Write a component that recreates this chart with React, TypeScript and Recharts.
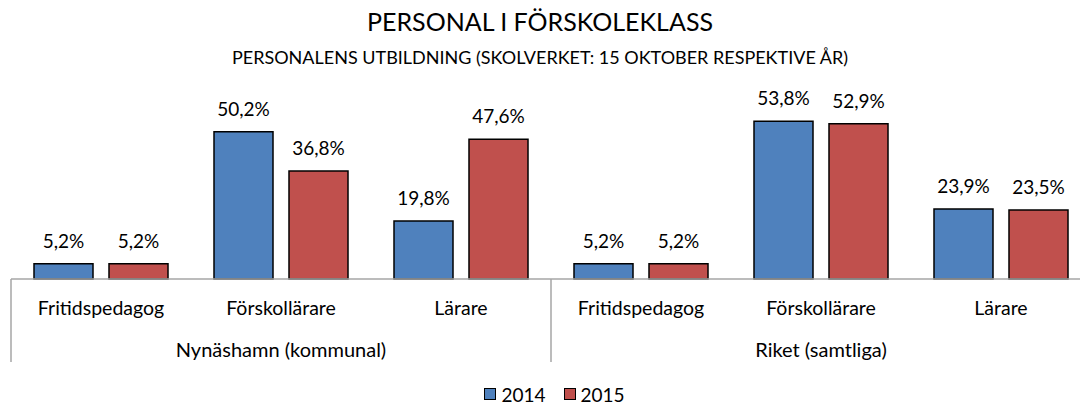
import React from 'react';
import { BarChart, Bar, XAxis, YAxis, Legend, LabelList } from 'recharts';

const categories = ['Fritidspedagog', 'Förskollärare', 'Lärare', 'Fritidspedagog', 'Förskollärare', 'Lärare'];
const groups = [
  'Nynäshamn (kommunal)',
  'Nynäshamn (kommunal)',
  'Nynäshamn (kommunal)',
  'Riket (samtliga)',
  'Riket (samtliga)',
  'Riket (samtliga)',
];
const values2014 = [5.2, 50.2, 19.8, 5.2, 53.8, 23.9];
const values2015 = [5.2, 36.8, 47.6, 5.2, 52.9, 23.5];
const seriesNames = ['2014', '2015'];
const seriesColors = ['#4F81BD', '#C0504D'];
const title = 'PERSONAL I FÖRSKOLEKLASS';
const subtitle = 'PERSONALENS UTBILDNING (SKOLVERKET: 15 OKTOBER RESPEKTIVE ÅR)';

const data = categories.map((c, i) => ({
  key: String(i),
  cat: c,
  group: groups[i],
  y2014: values2014[i],
  y2015: values2015[i],
}));

const FONT = 'Lato, "Open Sans", sans-serif';
const CHART_W = 1100;
const CHART_H = 405;
const M = { top: 103, left: 11, right: 9, bottom: 0 };
const BAND = (CHART_W - M.left - M.right) / categories.length;
const AXIS_GRAY = '#a6a6a6';

const fmt = (v: any) => `${Number(v).toFixed(1).replace('.', ',')}%`;

const CatTick = (props: any) => {
  const { x, y, index } = props;
  const half = BAND / 2;
  const lines: number[] = [];
  if (index === 0 || groups[index] !== groups[index - 1]) lines.push(x - half);
  if (index === categories.length - 1) lines.push(x + half);
  return (
    <g>
      {lines.map((lx, k) => (
        <line key={k} x1={lx} x2={lx} y1={y} y2={y + 83} stroke={AXIS_GRAY} strokeWidth={1.5} />
      ))}
      <text x={x} y={y + 36} textAnchor="middle" fontSize={19.5} fontFamily={FONT} fill="#000">
        {categories[index]}
      </text>
    </g>
  );
};

const GroupTick = (props: any) => {
  const { x, y, index } = props;
  if (index > 0 && groups[index] === groups[index - 1]) return <g />;
  let count = 0;
  for (let j = index; j < groups.length && groups[j] === groups[index]; j++) count++;
  const cx = x - BAND / 2 + (count * BAND) / 2;
  return (
    <text x={cx} y={y + 28} textAnchor="middle" fontSize={20} fontFamily={FONT} fill="#000">
      {groups[index]}
    </text>
  );
};

const LegendContent = () => (
  <div
    style={{
      height: 30,
      display: 'flex',
      justifyContent: 'center',
      alignItems: 'center',
      paddingTop: 8,
      boxSizing: 'border-box',
      fontFamily: FONT,
      fontSize: 19,
      color: '#000',
      paddingLeft: 7,
    }}
  >
    {seriesNames.map((n, i) => (
      <div key={n} style={{ display: 'flex', alignItems: 'center', marginRight: i === 0 ? 18 : 0 }}>
        <span
          style={{
            display: 'inline-block',
            width: 10,
            height: 10,
            background: seriesColors[i],
            border: '1.5px solid #000',
            marginRight: 5,
          }}
        />
        <span style={{ lineHeight: '19px' }}>{n}</span>
      </div>
    ))}
  </div>
);

export default function App() {
  return (
    <div
      style={{
        position: 'absolute',
        left: 0,
        top: 0,
        width: 1080,
        height: 405,
        overflow: 'hidden',
        background: '#fff',
        fontFamily: FONT,
      }}
    >
      <div
        style={{
          position: 'absolute',
          left: 0,
          top: 5,
          width: 1080,
          textAlign: 'center',
          fontSize: 25,
          lineHeight: '32px',
          color: '#000',
        }}
      >
        {title}
      </div>
      <div
        style={{
          position: 'absolute',
          left: 0,
          top: 46,
          width: 1080,
          textAlign: 'center',
          fontSize: 18,
          lineHeight: '22px',
          color: '#000',
        }}
      >
        {subtitle}
      </div>
      <div style={{ position: 'absolute', left: 0, top: 0 }}>
        <BarChart width={CHART_W} height={CHART_H} data={data} margin={M} barGap={16}>
          <XAxis
            dataKey="key"
            height={50}
            tickLine={false}
            tickSize={0}
            tickMargin={0}
            axisLine={{ stroke: AXIS_GRAY, strokeWidth: 1.5 }}
            tick={<CatTick />}
            interval={0}
          />
          <XAxis
            xAxisId="g"
            dataKey="key"
            height={46}
            tickLine={false}
            tickSize={0}
            tickMargin={0}
            axisLine={false}
            tick={<GroupTick />}
            interval={0}
          />
          <YAxis hide domain={[0, 60]} />
          <Legend verticalAlign="bottom" height={30} content={<LegendContent />} />
          <Bar
            dataKey="y2014"
            name={seriesNames[0]}
            fill={seriesColors[0]}
            stroke="#000"
            strokeWidth={1.5}
            barSize={59}
            isAnimationActive={false}
          >
            <LabelList dataKey="y2014" position="top" offset={16} formatter={fmt} fontSize={19} fontFamily={FONT} fill="#000" />
          </Bar>
          <Bar
            dataKey="y2015"
            name={seriesNames[1]}
            fill={seriesColors[1]}
            stroke="#000"
            strokeWidth={1.5}
            barSize={59}
            isAnimationActive={false}
          >
            <LabelList dataKey="y2015" position="top" offset={16} formatter={fmt} fontSize={19} fontFamily={FONT} fill="#000" />
          </Bar>
        </BarChart>
      </div>
    </div>
  );
}
